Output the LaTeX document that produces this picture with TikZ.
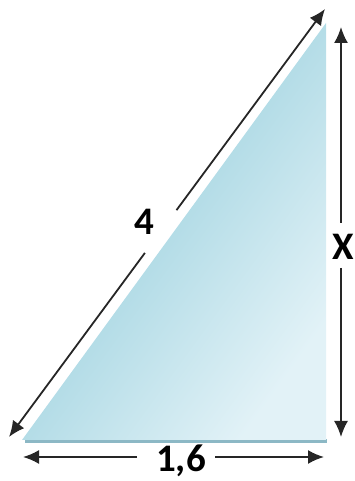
\documentclass[tikz,border=0pt]{standalone}
\usepackage{fontspec}
\setmainfont{Carlito}
\usetikzlibrary{arrows.meta,calc}
\definecolor{glassdark}{RGB}{134,199,215}
\definecolor{glasslight}{RGB}{226,242,247}
\definecolor{glassedge}{RGB}{140,184,197}
\tikzset{
  dim/.style={line width=1.8pt, draw=black!85},
  tip/.style={-{Latex[length=16pt,width=14pt]}},
  lbl/.style={font=\fontsize{39}{41}\selectfont\bfseries}
}
\begin{document}
\begin{tikzpicture}[x=1pt,y=1pt]
  \useasboundingbox (0,0) rectangle (355,481);
  % the glass triangle
  \coordinate (A) at (22,41);
  \coordinate (B) at (326,41);
  \coordinate (C) at (326,458);
  \fill[glassedge] (25,37.5) rectangle (327,42);
  \shade[top color=glassdark, bottom color=glasslight, shading angle=54]
    (A) -- (B) -- (C) -- cycle;

  % hypotenuse
  \coordinate (h1) at (9,44);
  \coordinate (h2) at (325,472);
  \draw[dim,tip] ($(h1)!0.43!(h2)$) -- (h1);
  \draw[dim,tip] ($(h1)!0.53!(h2)$) -- (h2);
  \node[lbl] (lfour) at (144,259) {4};

  % height
  \coordinate (v1) at (341,44);
  \coordinate (v2) at (341,454);
  \draw[dim,tip] (341,213) -- (v1);
  \draw[dim,tip] (341,258) -- (v2);
  \node[lbl] (lx) at (343,234) {X};

  % base
  \coordinate (b1) at (23,24);
  \coordinate (b2) at (324,24);
  \draw[dim,tip] (137,24) -- (b1);
  \draw[dim,tip] (215,24) -- (b2);
  \node[lbl] (lbase) at (181,20) {1,6};
\end{tikzpicture}
\end{document}
